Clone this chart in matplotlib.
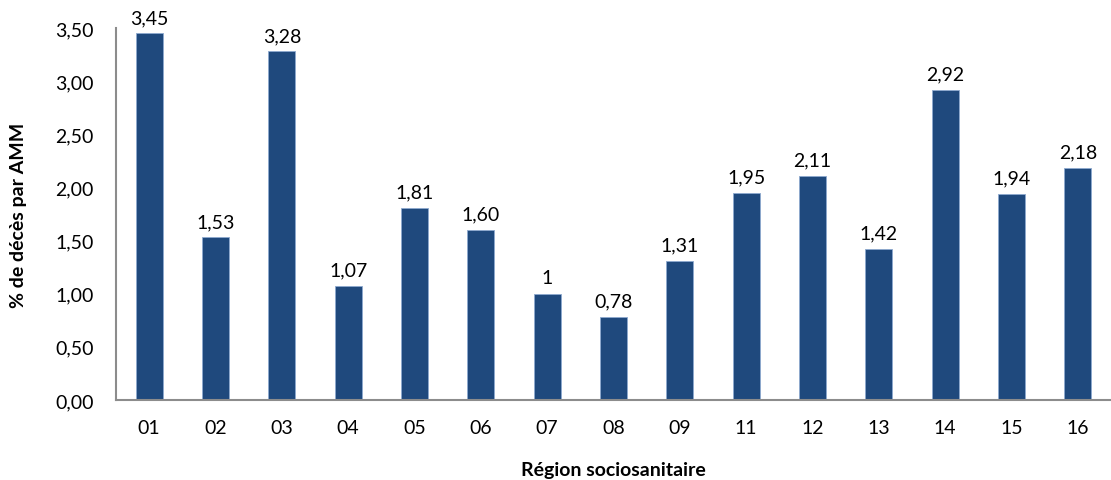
import numpy as np
import matplotlib.pyplot as plt

plt.rcParams['font.family'] = ['Lato', 'DejaVu Sans']

# regions sociosanitaires et % de décès
regions = ['01', '02', '03', '04', '05', '06', '07', '08', '09', '11', '12', '13', '14', '15', '16']
valeurs = [3.45, 1.53, 3.28, 1.07, 1.81, 1.60, 1.00, 0.78, 1.31, 1.95, 2.11, 1.42, 2.92, 1.94, 2.18]
etiquettes = ['3,45', '1,53', '3,28', '1,07', '1,81', '1,60', '1', '0,78', '1,31', '1,95', '2,11', '1,42', '2,92', '1,94', '2,18']
yticks = [0, 0.5, 1.0, 1.5, 2.0, 2.5, 3.0, 3.5]

fig = plt.figure(figsize=(11.11, 4.81), dpi=100)
ax = fig.add_axes([0.1044, 0.1663, 0.8956, 0.7734])

x = np.arange(len(regions))
bars = ax.bar(x, valeurs, width=0.41, color='#1F497D', edgecolor='#8DA9CF', linewidth=0.6)
for b, lab in zip(bars, etiquettes):
    ax.text(b.get_x() + b.get_width() / 2, b.get_height() + 0.07, lab,
            ha='center', va='bottom', fontsize=14)

ax.set_xlim(-0.5, len(regions) - 0.5)
ax.set_ylim(0, 3.5)
ax.set_xticks(x)
ax.set_xticklabels(regions, fontsize=14)
ax.set_yticks(yticks)
ax.set_yticklabels([f'{v:.2f}'.replace('.', ',') for v in yticks], fontsize=14)
ax.tick_params(axis='x', length=0, pad=14)
ax.tick_params(axis='y', length=0, pad=16)

for s in ['top', 'right']:
    ax.spines[s].set_visible(False)
for s in ['left', 'bottom']:
    ax.spines[s].set_color('#8C8C8C')
    ax.spines[s].set_linewidth(1.5)

ax.set_xlabel('Région sociosanitaire', fontsize=14, fontweight='bold', labelpad=18)
ax.set_ylabel('% de décès par AMM', fontsize=14, fontweight='bold', labelpad=20)

fig.savefig('out.png', dpi=100)
